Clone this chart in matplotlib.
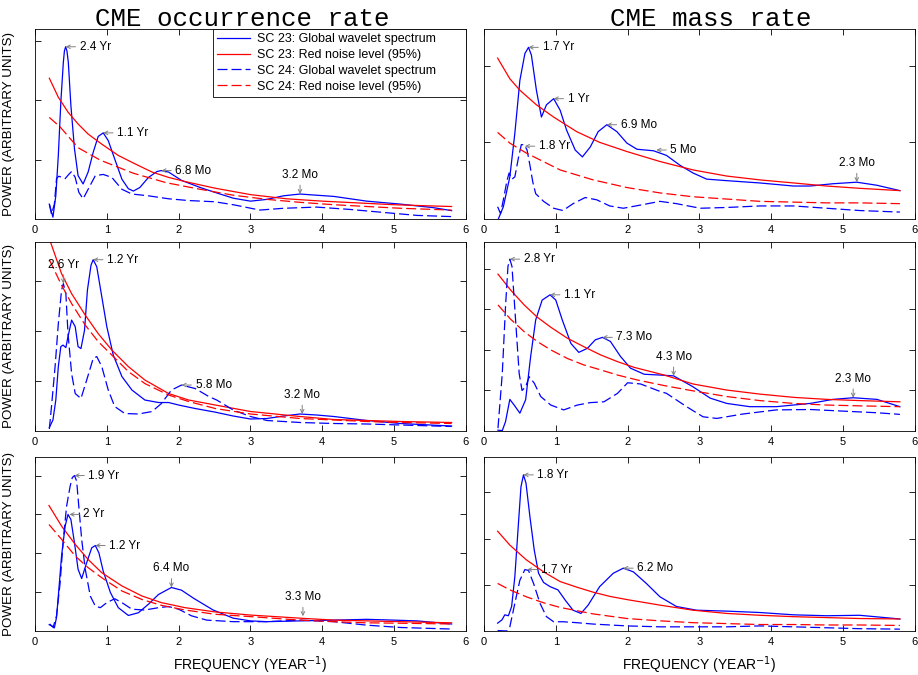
import matplotlib
matplotlib.use("Agg")
import matplotlib.pyplot as plt

plt.rcParams['font.family'] = ['Liberation Sans', 'DejaVu Sans']
plt.rcParams['lines.scale_dashes'] = False

# ---- row 1, CME occurrence rate ----
r1o_gws23_f = [0.20, 0.25, 0.29, 0.325, 0.36, 0.395, 0.41, 0.427, 0.445, 0.464, 0.50, 0.55, 0.60, 0.67, 0.74, 0.81,
               0.88, 0.95, 1.02, 1.11, 1.21, 1.30, 1.37, 1.46, 1.58, 1.70, 1.76, 1.86, 2.04, 2.30, 2.50, 2.76, 3.00,
               3.23, 3.46, 3.69, 3.92, 4.16, 4.62, 5.09, 5.55, 5.80]
r1o_gws23 = [0.25, 0.03, 0.39, 1.07, 1.97, 2.64, 2.83, 2.90, 2.83, 2.64, 1.91, 1.18, 0.73, 0.59, 0.79, 1.12,
             1.39, 1.45, 1.32, 1.01, 0.67, 0.51, 0.47, 0.53, 0.70, 0.80, 0.815, 0.79, 0.65, 0.53, 0.45, 0.35, 0.30,
             0.33, 0.39, 0.42, 0.40, 0.38, 0.30, 0.25, 0.19, 0.14]
r1o_red23_f = [0.2, 0.325, 0.46, 0.6, 0.74, 0.93, 1.16, 1.39, 1.63, 1.86, 2.09, 2.5, 3.0, 3.5, 4.0, 4.5, 5.0, 5.5, 5.8]
r1o_red23 = [2.37, 2.05, 1.80, 1.60, 1.43, 1.26, 1.07, 0.93, 0.79, 0.70, 0.63, 0.52, 0.41, 0.34, 0.30, 0.27, 0.24,
             0.22, 0.21]
r1o_gws24_f = [0.20, 0.23, 0.27, 0.30, 0.33, 0.38, 0.42, 0.47, 0.51, 0.56, 0.61, 0.67, 0.74, 0.84, 0.95, 1.07, 1.21,
               1.35, 1.58, 1.86, 2.14, 2.50, 2.76, 3.13, 3.46, 3.92, 4.39, 4.85, 5.32, 5.80]
r1o_gws24 = [0.25, 0.08, 0.25, 0.68, 0.72, 0.70, 0.68, 0.75, 0.80, 0.70, 0.45, 0.34, 0.50, 0.73, 0.75, 0.70, 0.50,
             0.42, 0.39, 0.34, 0.31, 0.29, 0.24, 0.15, 0.18, 0.20, 0.16, 0.11, 0.06, 0.04]
r1o_red24_f = [0.2, 0.35, 0.6, 0.91, 1.37, 1.83, 2.30, 2.76, 3.23, 3.69, 4.16, 4.62, 5.09, 5.80]
r1o_red24 = [1.71, 1.55, 1.20, 0.99, 0.77, 0.61, 0.50, 0.40, 0.33, 0.28, 0.24, 0.21, 0.18, 0.15]

# ---- row 1, CME mass rate ----
r1m_gws23_f = [0.20, 0.27, 0.36, 0.43, 0.50, 0.57, 0.62, 0.66, 0.73, 0.80, 0.87, 0.97, 1.06, 1.15, 1.27, 1.37, 1.48,
               1.59, 1.71, 1.85, 1.99, 2.13, 2.36, 2.54, 2.73, 2.91, 3.10, 3.38, 3.84, 4.31, 4.54, 4.86, 5.19, 5.47,
               5.79]
r1m_gws23 = [0.0, 0.16, 0.55, 1.12, 1.81, 2.16, 2.24, 2.14, 1.68, 1.33, 1.49, 1.57, 1.42, 1.16, 0.90, 0.81, 0.94,
             1.14, 1.23, 1.14, 0.99, 0.91, 0.89, 0.83, 0.70, 0.60, 0.52, 0.50, 0.47, 0.43, 0.43, 0.46, 0.48, 0.44,
             0.37]
r1m_red23_f = [0.19, 0.36, 0.50, 0.73, 0.97, 1.29, 1.61, 1.99, 2.45, 2.91, 3.38, 3.84, 4.31, 4.77, 5.23, 5.79]
r1m_red23 = [2.10, 1.83, 1.68, 1.49, 1.33, 1.14, 1.00, 0.88, 0.75, 0.64, 0.56, 0.51, 0.47, 0.43, 0.40, 0.37]
r1m_gws24_f = [0.19, 0.23, 0.27, 0.32, 0.35, 0.39, 0.43, 0.48, 0.52, 0.56, 0.60, 0.64, 0.68, 0.72, 0.83, 0.97, 1.10,
               1.24, 1.41, 1.57, 1.75, 1.94, 2.17, 2.45, 2.68, 3.01, 3.38, 3.84, 4.31, 4.77, 5.23, 5.79]
r1m_gws24 = [0.16, 0.07, 0.25, 0.50, 0.60, 0.52, 0.55, 0.80, 0.97, 0.97, 0.90, 0.70, 0.48, 0.33, 0.23, 0.14, 0.11,
             0.20, 0.28, 0.25, 0.17, 0.14, 0.18, 0.23, 0.20, 0.14, 0.15, 0.17, 0.17, 0.14, 0.11, 0.09]
r1m_red24_f = [0.19, 0.36, 0.59, 1.06, 1.52, 1.99, 2.45, 2.91, 3.38, 3.84, 4.31, 4.77, 5.23, 5.79]
r1m_red24 = [1.13, 0.99, 0.86, 0.64, 0.51, 0.41, 0.34, 0.29, 0.26, 0.23, 0.22, 0.21, 0.21, 0.20]

# ---- row 2, CME occurrence rate ----
r2o_gws23_f = [0.20, 0.25, 0.29, 0.325, 0.36, 0.39, 0.43, 0.46, 0.51, 0.56, 0.60, 0.64, 0.69, 0.73, 0.78, 0.81, 0.86,
               0.93, 1.00, 1.09, 1.21, 1.35, 1.53, 1.72, 1.86, 2.00, 2.23, 2.50, 2.76, 3.00, 3.23, 3.46, 3.69, 3.92,
               4.16, 4.62, 5.09, 5.64, 5.80]
r2o_gws23 = [0.07, 0.22, 0.62, 1.29, 1.69, 1.72, 1.67, 1.89, 2.22, 2.09, 1.69, 1.65, 2.02, 2.82, 3.32, 3.43, 3.29,
             2.69, 2.09, 1.52, 1.09, 0.82, 0.62, 0.57, 0.57, 0.52, 0.45, 0.38, 0.30, 0.24, 0.25, 0.30, 0.34, 0.32,
             0.29, 0.21, 0.15, 0.11, 0.10]
r2o_red23_f = [0.20, 0.37, 0.51, 0.70, 0.88, 1.07, 1.30, 1.53, 1.86, 2.14, 2.51, 3.00, 3.69, 4.16, 4.62, 5.09, 5.80]
r2o_red23 = [3.85, 3.15, 2.75, 2.32, 1.95, 1.62, 1.29, 1.02, 0.75, 0.62, 0.52, 0.39, 0.29, 0.23, 0.21, 0.19, 0.17]
r2o_gws24_f = [0.20, 0.23, 0.28, 0.325, 0.37, 0.395, 0.43, 0.46, 0.51, 0.56, 0.64, 0.72, 0.81, 0.86, 0.93, 1.02,
               1.11, 1.25, 1.44, 1.63, 1.76, 1.90, 2.04, 2.23, 2.42, 2.53, 2.76, 3.00, 3.23, 3.69, 4.16, 4.62, 5.09,
               5.80]
r2o_gws24 = [0.04, 0.49, 1.29, 2.15, 2.82, 2.95, 2.75, 1.95, 1.15, 0.75, 0.65, 1.02, 1.45, 1.49, 1.29, 0.82,
             0.49, 0.35, 0.34, 0.39, 0.55, 0.82, 0.92, 0.85, 0.69, 0.62, 0.42, 0.29, 0.21, 0.17, 0.15, 0.14, 0.12,
             0.09]
r2o_red24_f = [0.20, 0.37, 0.51, 0.70, 0.88, 1.07, 1.30, 1.53, 1.86, 2.14, 2.51, 3.00, 3.69, 4.16, 4.62, 5.09, 5.80]
r2o_red24 = [3.43, 2.92, 2.55, 2.12, 1.79, 1.52, 1.19, 0.95, 0.72, 0.59, 0.45, 0.34, 0.25, 0.22, 0.19, 0.17, 0.15]

# ---- row 2, CME mass rate ----
r2m_gws23_f = [0.195, 0.255, 0.30, 0.36, 0.42, 0.50, 0.58, 0.65, 0.72, 0.81, 0.92, 1.00, 1.09, 1.21, 1.32, 1.44,
               1.55, 1.65, 1.76, 1.90, 2.04, 2.23, 2.45, 2.64, 2.91, 3.15, 3.38, 3.70, 4.07, 4.54, 4.86, 5.14, 5.47,
               5.79]
r2m_gws23 = [0.02, 0.01, 0.23, 0.78, 0.64, 0.44, 0.77, 1.84, 2.74, 3.23, 3.36, 3.23, 2.74, 2.16, 1.94, 2.04,
             2.25, 2.31, 2.21, 1.84, 1.55, 1.40, 1.38, 1.36, 1.09, 0.81, 0.68, 0.60, 0.60, 0.68, 0.78, 0.82, 0.78,
             0.60]
r2m_red23_f = [0.195, 0.37, 0.56, 0.74, 0.93, 1.16, 1.39, 1.62, 1.86, 2.09, 2.51, 2.91, 3.38, 3.84, 4.31, 4.77, 5.23,
               5.79]
r2m_red23 = [3.87, 3.48, 3.11, 2.81, 2.56, 2.29, 2.08, 1.88, 1.71, 1.57, 1.38, 1.16, 1.01, 0.91, 0.83, 0.78, 0.75,
             0.72]
r2m_gws24_f = [0.195, 0.255, 0.30, 0.334, 0.36, 0.39, 0.44, 0.49, 0.53, 0.58, 0.63, 0.70, 0.79, 0.93, 1.11, 1.30,
               1.48, 1.67, 1.86, 2.00, 2.18, 2.46, 2.54, 2.82, 3.05, 3.24, 3.61, 4.07, 4.54, 5.00, 5.47, 5.79]
r2m_gws24 = [0.07, 1.42, 3.07, 4.06, 4.24, 4.06, 2.74, 1.42, 1.00, 1.09, 1.34, 1.18, 0.85, 0.64, 0.52, 0.64,
             0.70, 0.72, 0.93, 1.19, 1.16, 0.97, 0.93, 0.60, 0.35, 0.31, 0.42, 0.52, 0.53, 0.49, 0.45, 0.41]
r2m_red24_f = [0.195, 0.37, 0.56, 0.74, 0.93, 1.16, 1.39, 1.62, 1.86, 2.13, 2.51, 2.91, 3.38, 3.84, 4.31, 4.77, 5.23,
               5.79]
r2m_red24 = [3.11, 2.76, 2.45, 2.21, 2.00, 1.79, 1.63, 1.51, 1.38, 1.26, 1.12, 0.99, 0.85, 0.75, 0.68, 0.64, 0.62,
             0.60]

# ---- row 3, CME occurrence rate ----
r3o_gws23_f = [0.21, 0.255, 0.27, 0.30, 0.325, 0.37, 0.42, 0.46, 0.50, 0.55, 0.60, 0.65, 0.72, 0.79, 0.84, 0.89,
               0.95, 1.05, 1.16, 1.30, 1.44, 1.58, 1.72, 1.90, 2.04, 2.21, 2.48, 2.76, 3.00, 3.23, 3.69, 4.16, 4.62,
               4.99, 5.32, 5.80]
r3o_gws23 = [0.17, 0.09, 0.08, 0.35, 0.90, 1.93, 2.70, 3.00, 2.87, 2.27, 1.59, 1.35, 1.76, 2.14, 2.20, 2.01,
             1.54, 0.99, 0.60, 0.40, 0.47, 0.69, 0.94, 1.12, 1.05, 0.84, 0.54, 0.33, 0.26, 0.24, 0.26, 0.28, 0.30,
             0.28, 0.26, 0.18]
r3o_red23_f = [0.195, 0.37, 0.56, 0.74, 0.93, 1.21, 1.49, 1.76, 2.09, 2.51, 3.00, 3.69, 4.16, 4.62, 5.09, 5.80]
r3o_red23 = [3.23, 2.70, 2.23, 1.84, 1.50, 1.16, 0.90, 0.73, 0.60, 0.49, 0.41, 0.33, 0.28, 0.26, 0.24, 0.21]
r3o_gws24_f = [0.19, 0.255, 0.30, 0.35, 0.395, 0.44, 0.49, 0.52, 0.55, 0.58, 0.61, 0.65, 0.70, 0.77, 0.84, 0.91,
               1.00, 1.11, 1.21, 1.35, 1.53, 1.72, 1.86, 2.00, 2.18, 2.39, 2.76, 3.23, 3.69, 4.16, 4.62, 5.09, 5.80]
r3o_gws24 = [0.17, 0.11, 0.39, 1.24, 2.36, 3.21, 3.73, 3.95, 4.00, 3.86, 3.21, 2.36, 1.59, 0.90, 0.64, 0.60,
             0.73, 0.83, 0.73, 0.56, 0.54, 0.60, 0.63, 0.56, 0.39, 0.28, 0.24, 0.24, 0.28, 0.24, 0.15, 0.09, 0.05]
r3o_red24_f = [0.195, 0.37, 0.56, 0.74, 0.93, 1.21, 1.49, 1.76, 2.09, 2.51, 3.00, 3.69, 4.16, 4.62, 5.09, 5.80]
r3o_red24 = [2.74, 2.36, 1.93, 1.63, 1.37, 1.03, 0.81, 0.66, 0.54, 0.43, 0.37, 0.28, 0.24, 0.21, 0.20, 0.18]

# ---- row 3, CME mass rate ----
r3m_gws23_f = [0.19, 0.25, 0.29, 0.34, 0.385, 0.43, 0.48, 0.515, 0.55, 0.585, 0.64, 0.70, 0.76, 0.83, 0.92, 1.03,
               1.13, 1.24, 1.35, 1.45, 1.61, 1.80, 1.94, 2.08, 2.26, 2.45, 2.68, 2.96, 3.38, 3.84, 4.31, 4.77, 5.23,
               5.79]
r3m_gws23 = [0.17, 0.24, 0.35, 0.33, 0.53, 1.18, 2.33, 3.12, 3.38, 3.20, 2.47, 1.75, 1.25, 1.05, 0.96, 0.89,
             0.67, 0.45, 0.38, 0.56, 0.96, 1.25, 1.36, 1.28, 1.03, 0.74, 0.53, 0.45, 0.43, 0.40, 0.35, 0.33, 0.34,
             0.26]
r3m_red23_f = [0.19, 0.36, 0.59, 0.83, 1.06, 1.29, 1.52, 1.75, 1.99, 2.45, 2.91, 3.38, 3.84, 4.31, 4.77, 5.23, 5.79]
r3m_red23 = [2.16, 1.86, 1.54, 1.28, 1.07, 0.95, 0.84, 0.75, 0.68, 0.56, 0.45, 0.38, 0.34, 0.31, 0.29, 0.27, 0.26]
r3m_gws24_f = [0.19, 0.32, 0.36, 0.43, 0.50, 0.57, 0.62, 0.69, 0.78, 0.87, 0.97, 1.10, 1.29, 1.52, 1.99, 2.45, 2.91,
               3.38, 3.84, 4.31, 4.77, 5.23, 5.79]
r3m_gws24 = [0.01, 0.0, 0.09, 0.60, 1.10, 1.33, 1.31, 1.03, 0.60, 0.31, 0.20, 0.20, 0.18, 0.15, 0.11, 0.09, 0.09,
             0.09, 0.11, 0.09, 0.07, 0.05, 0.04]
r3m_red24_f = [0.19, 0.36, 0.59, 0.83, 1.06, 1.52, 1.99, 2.45, 2.91, 3.38, 3.84, 4.31, 4.77, 5.23, 5.79]
r3m_red24 = [1.03, 0.89, 0.74, 0.61, 0.51, 0.37, 0.27, 0.22, 0.18, 0.16, 0.14, 0.14, 0.13, 0.13, 0.12]

# peak labels: (text, freq, power, arrow direction)
r1o_peaks = [("2.4 Yr", 0.427, 2.90, "l"), ("1.1 Yr", 0.95, 1.45, "l"), ("6.8 Mo", 1.76, 0.815, "l"),
             ("3.2 Mo", 3.69, 0.42, "d")]
r1m_peaks = [("1.7 Yr", 0.62, 2.24, "l"), ("1 Yr", 0.97, 1.57, "l"), ("6.9 Mo", 1.71, 1.23, "l"),
             ("5 Mo", 2.40, 0.90, "l"), ("1.8 Yr", 0.57, 0.95, "l"), ("2.3 Mo", 5.19, 0.48, "d")]
r2o_peaks = [("1.2 Yr", 0.81, 3.43, "l"), ("2.6 Yr", 0.395, 2.95, "d"), ("5.8 Mo", 2.04, 0.92, "l"),
             ("3.2 Mo", 3.72, 0.34, "d")]
r2m_peaks = [("2.8 Yr", 0.36, 4.24, "l"), ("1.1 Yr", 0.92, 3.36, "l"), ("7.3 Mo", 1.65, 2.31, "l"),
             ("4.3 Mo", 2.64, 1.36, "d"), ("2.3 Mo", 5.14, 0.82, "d")]
r3o_peaks = [("1.9 Yr", 0.55, 4.0, "l"), ("2 Yr", 0.48, 3.0, "l"), ("1.2 Yr", 0.84, 2.2, "l"),
             ("6.4 Mo", 1.90, 1.12, "d"), ("3.3 Mo", 3.73, 0.38, "d")]
r3m_peaks = [("1.8 Yr", 0.55, 3.38, "l"), ("1.7 Yr", 0.60, 1.33, "l"), ("6.2 Mo", 1.94, 1.36, "l")]

panels = [
    (r1o_gws23_f, r1o_gws23, r1o_red23_f, r1o_red23, r1o_gws24_f, r1o_gws24, r1o_red24_f, r1o_red24, r1o_peaks, 3.2),
    (r1m_gws23_f, r1m_gws23, r1m_red23_f, r1m_red23, r1m_gws24_f, r1m_gws24, r1m_red24_f, r1m_red24, r1m_peaks, 2.48),
    (r2o_gws23_f, r2o_gws23, r2o_red23_f, r2o_red23, r2o_gws24_f, r2o_gws24, r2o_red24_f, r2o_red24, r2o_peaks, 3.79),
    (r2m_gws23_f, r2m_gws23, r2m_red23_f, r2m_red23, r2m_gws24_f, r2m_gws24, r2m_red24_f, r2m_red24, r2m_peaks, 4.67),
    (r3o_gws23_f, r3o_gws23, r3o_red23_f, r3o_red23, r3o_gws24_f, r3o_gws24, r3o_red24_f, r3o_red24, r3o_peaks, 4.47),
    (r3m_gws23_f, r3m_gws23, r3m_red23_f, r3m_red23, r3m_gws24_f, r3m_gws24, r3m_red24_f, r3m_red24, r3m_peaks, 3.76),
]

fig = plt.figure(figsize=(9.18, 6.75), dpi=100)

# axes boxes in figure fractions (left col / right col, three rows)
lefts = [0.0381, 0.5272]
rows = [(0.6756, 0.2815), (0.3615, 0.2804), (0.0652, 0.2573)]
dash = (7.2, 2.9)

for i, (f23, g23, rf23, r23, f24, g24, rf24, r24, peaks, ymax) in enumerate(panels):
    row, col = divmod(i, 2)
    ax = fig.add_axes([lefts[col], rows[row][0], 0.4695, rows[row][1]])

    ax.plot(f23, g23, color="blue", lw=0.9, label="SC 23: Global wavelet spectrum")
    ax.plot(rf23, r23, color="red", lw=0.9, label="SC 23: Red noise level (95%)")
    ax.plot(f24, g24, color="blue", lw=0.9, dashes=dash, label="SC 24: Global wavelet spectrum")
    ax.plot(rf24, r24, color="red", lw=0.9, dashes=dash, label="SC 24: Red noise level (95%)")

    for txt, x, y, kind in peaks:
        arrow = dict(arrowstyle="->,head_length=0.3,head_width=0.15", color="gray", lw=0.7,
                     shrinkA=1, shrinkB=0)
        if kind == "l":
            ax.annotate(txt, xy=(x, y), xytext=(14, 0), textcoords="offset pixels",
                        ha="left", va="center", fontsize=8.5, arrowprops=arrow)
        else:
            ax.annotate(txt, xy=(x, y), xytext=(0, 16), textcoords="offset pixels",
                        ha="center", va="baseline", fontsize=8.5, arrowprops=arrow)

    ax.set_xlim(0, 6)
    ax.set_ylim(0, ymax)
    ax.set_xticks(range(7))
    ax.set_yticks(range(1, int(ymax) + 1))
    ax.set_yticklabels([])
    ax.tick_params(direction="in", top=True, right=True, length=4, width=0.6, labelsize=8, pad=4.5)
    for sp in ax.spines.values():
        sp.set_linewidth(0.6)

    if col == 0:
        ax.set_ylabel("POWER (ARBITRARY UNITS)", fontsize=9.6, labelpad=10)
    if row == 2:
        ax.set_xlabel("FREQUENCY (YEAR$^{-1}$)", fontsize=10, labelpad=5)
    if row == 0:
        title = "CME occurrence rate" if col == 0 else "CME mass rate"
        ax.set_title(title, fontsize=18.6, family="Liberation Mono", pad=2,
                     x=0.48 if col == 0 else 0.527)
    if i == 0:
        leg = ax.legend(loc="upper left", bbox_to_anchor=(0.413, 0.637, 0.587, 0.363), mode="expand",
                        borderaxespad=0, fontsize=9, handlelength=2.6, handletextpad=0.6,
                        labelspacing=0.3, borderpad=0.35, fancybox=False, framealpha=1)
        leg.get_frame().set_edgecolor("black")
        leg.get_frame().set_linewidth(0.6)

fig.savefig("out.png", dpi=100)
